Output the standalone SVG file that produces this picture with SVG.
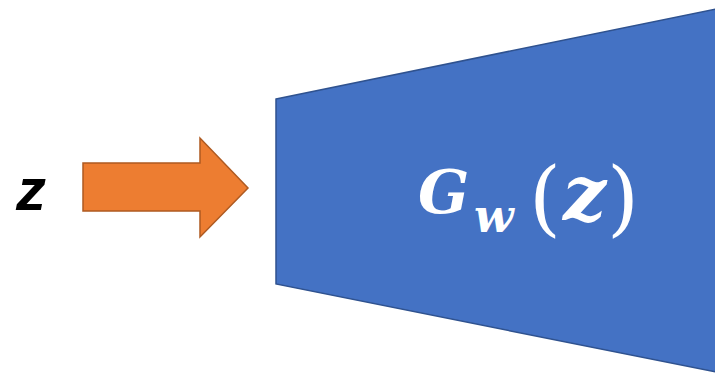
<svg xmlns="http://www.w3.org/2000/svg" width="715" height="376" viewBox="0 0 715 376">
<style>
.math{font-family:"DejaVu Serif","Liberation Serif",serif;fill:#fff}
.bi{font-weight:bold;font-style:italic}
.par{font-weight:normal;font-style:normal}
</style>
<rect width="715" height="376" fill="#fff"/>
<g id="input-z">
<text x="16" y="210" font-family="Liberation Sans, Arial, sans-serif" font-style="italic" font-weight="bold" font-size="60" fill="#000">z</text>
</g>
<g id="connectors">
<polygon points="83,163 200,163 200,138 248,188 200,237 200,211 83,211" fill="#ED7D31" stroke="#AE5A21" stroke-width="1.5"/>
</g>
<g id="generator">
<polygon points="276,99 716,9 716,372 276,284" fill="#4472C4" stroke="#2F528F" stroke-width="1.5"/>
<text class="math"><tspan class="bi" x="418" y="213" font-size="60">G</tspan><tspan class="bi" x="474" y="232" font-size="46">w</tspan><tspan class="par" x="529" y="226" font-size="82">(</tspan><tspan class="bi" x="563" y="220" font-size="76">z</tspan><tspan class="par" x="607" y="226" font-size="82">)</tspan></text>
</g>
</svg>
